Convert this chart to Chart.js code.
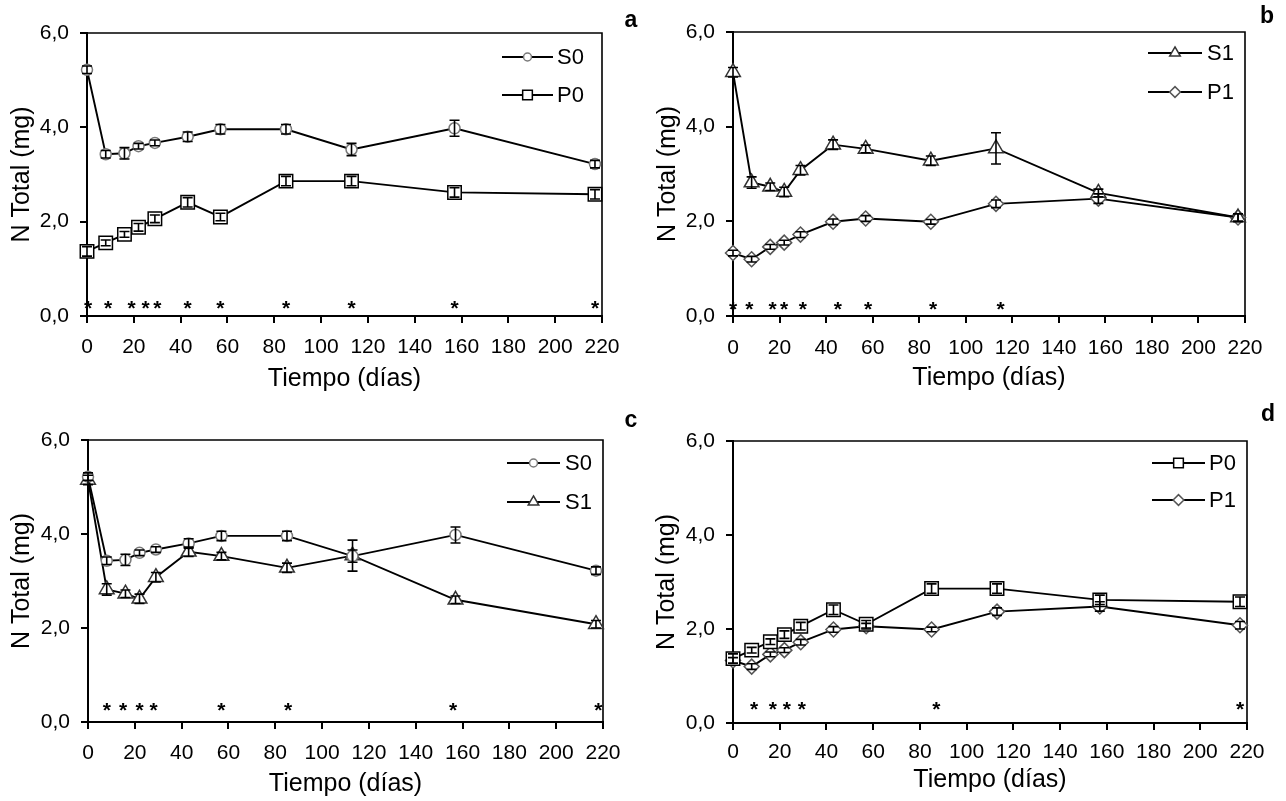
<!DOCTYPE html>
<html>
<head>
<meta charset="utf-8">
<script src="https://cdn.jsdelivr.net/npm/chart.js@4.4.1/dist/chart.umd.min.js"></script>
<style>
  html, body { margin: 0; padding: 0; background: #fff; }
  #wrap { position: relative; width: 1286px; height: 801px; overflow: hidden; background: #fff; }
  .panel { position: absolute; }
  .letra { position: absolute; font: bold 23px "Liberation Sans", Arial, sans-serif; color: #000;
           line-height: 1; transform: translate(-50%, -50%); }
</style>
</head>
<body>
<div id="wrap">
  <canvas id="cA" class="panel" width="643" height="400" style="left:0;top:0"></canvas>
  <canvas id="cB" class="panel" width="643" height="400" style="left:643px;top:0"></canvas>
  <canvas id="cC" class="panel" width="643" height="401" style="left:0;top:400px"></canvas>
  <canvas id="cD" class="panel" width="643" height="401" style="left:643px;top:400px"></canvas>
  <div class="letra" style="left:631px;top:19px">a</div>
  <div class="letra" style="left:1267px;top:15px">b</div>
  <div class="letra" style="left:631px;top:419px">c</div>
  <div class="letra" style="left:1268px;top:413px">d</div>
</div>
<script>
// días de muestreo
const dias = [0, 8, 16, 22, 29, 43, 57, 85, 113, 157, 217];

// N total (mg) y error estándar de cada tratamiento
const S0 = [5.22, 3.43, 3.45, 3.60, 3.67, 3.80, 3.96, 3.96, 3.53, 3.98, 3.22];
const S0err = [0.08, 0.08, 0.12, 0.06, 0.06, 0.10, 0.10, 0.10, 0.13, 0.17, 0.08];
const S1 = [5.15, 2.82, 2.73, 2.62, 3.08, 3.62, 3.53, 3.28, 3.54, 2.60, 2.08];
const S1err = [0.10, 0.12, 0.08, 0.10, 0.10, 0.10, 0.08, 0.10, 0.33, 0.08, 0.08];
const P0 = [1.37, 1.55, 1.73, 1.88, 2.06, 2.41, 2.10, 2.86, 2.86, 2.62, 2.58];
const P0err = [0.10, 0.06, 0.06, 0.08, 0.08, 0.10, 0.08, 0.10, 0.10, 0.10, 0.10];
const P1 = [1.33, 1.20, 1.46, 1.55, 1.72, 1.99, 2.06, 1.99, 2.37, 2.48, 2.08];
const P1err = [0.06, 0.06, 0.05, 0.05, 0.06, 0.06, 0.06, 0.05, 0.08, 0.10, 0.08];

// posiciones (días) de los asteriscos de diferencia significativa
const astA = [0.5, 9, 19, 25, 30, 43, 57, 85, 113, 157, 217];
const astB = [0, 7, 17, 22, 30, 45, 58, 86, 115];
const astC = [8, 15, 22, 28, 57, 85.5, 156, 218];
const astD = [9, 17, 23, 29.5, 87, 217];
const astNivel = [0.28, 0.25, 0.36, 0.40];

const ticksX = [0, 20, 40, 60, 80, 100, 120, 140, 160, 180, 200, 220];
const ticksY = [0, 2, 4, 6];

const FUENTE = '"Liberation Sans", Arial, sans-serif';

const series = {
  S0: { valores: S0, errores: S0err, pointStyle: 'circle', radius: 5.5, color: '#7a7a7a' },
  S1: { valores: S1, errores: S1err, pointStyle: 'triangle', radius: 8.5, color: '#333' },
  P0: { valores: P0, errores: P0err, pointStyle: 'rect', radius: 9.5, color: '#000' },
  P1: { valores: P1, errores: P1err, pointStyle: 'rectRot', radius: 7.5, color: '#555' }
};

function dataset(nombre) {
  const s = series[nombre];
  return {
    label: nombre,
    data: dias.map((d, i) => ({ x: d, y: s.valores[i] })),
    errores: s.errores,
    borderColor: '#000',
    borderWidth: 1.9,
    tension: 0,
    clip: false,
    pointStyle: s.pointStyle,
    pointRadius: s.radius,
    pointBorderColor: s.color,
    pointBackgroundColor: '#fff',
    pointBorderWidth: 1.5
  };
}

// barras de error verticales con remate
const barrasError = {
  id: 'barrasError',
  afterDatasetsDraw(chart) {
    const ctx = chart.ctx, xs = chart.scales.x, ys = chart.scales.y;
    ctx.save();
    ctx.strokeStyle = '#000';
    ctx.lineWidth = 1.6;
    chart.data.datasets.forEach(ds => {
      ds.data.forEach((p, i) => {
        const e = ds.errores[i];
        const px = xs.getPixelForValue(p.x);
        const arriba = ys.getPixelForValue(p.y + e);
        const abajo = ys.getPixelForValue(p.y - e);
        ctx.beginPath();
        ctx.moveTo(px, arriba); ctx.lineTo(px, abajo);
        ctx.moveTo(px - 5, arriba); ctx.lineTo(px + 5, arriba);
        ctx.moveTo(px - 5, abajo); ctx.lineTo(px + 5, abajo);
        ctx.stroke();
      });
    });
    ctx.restore();
  }
};

// marco superior y derecho del área de trazado
const marco = {
  id: 'marco',
  beforeDatasetsDraw(chart) {
    const { ctx, chartArea: a } = chart;
    ctx.save();
    ctx.strokeStyle = '#000';
    ctx.lineWidth = 1.6;
    ctx.beginPath();
    ctx.moveTo(a.left, a.top); ctx.lineTo(a.right, a.top); ctx.lineTo(a.right, a.bottom);
    ctx.stroke();
    ctx.restore();
  }
};

// asteriscos sobre el eje de tiempo
const asteriscos = {
  id: 'asteriscos',
  afterDatasetsDraw(chart, args, opts) {
    const ctx = chart.ctx, xs = chart.scales.x, ys = chart.scales.y;
    ctx.save();
    ctx.fillStyle = '#000';
    ctx.font = 'bold 21px ' + FUENTE;
    ctx.textAlign = 'center';
    ctx.textBaseline = 'alphabetic';
    const py = ys.getPixelForValue(opts.nivel) + 12;
    opts.dias.forEach(d => ctx.fillText('*', xs.getPixelForValue(d), py));
    ctx.restore();
  }
};

// leyenda con trazo y marcador dentro del área
const leyenda = {
  id: 'leyenda',
  afterDraw(chart, args, opts) {
    const ctx = chart.ctx;
    ctx.save();
    chart.data.datasets.forEach((ds, i) => {
      const y = opts.filas[i];
      ctx.strokeStyle = '#000';
      ctx.lineWidth = 1.9;
      ctx.beginPath();
      ctx.moveTo(opts.x0, y); ctx.lineTo(opts.x1, y);
      ctx.stroke();
      ctx.fillStyle = '#fff';
      ctx.strokeStyle = ds.pointBorderColor;
      ctx.lineWidth = 1.5;
      Chart.helpers.drawPoint(ctx, {
        pointStyle: ds.pointStyle, rotation: 0,
        radius: ds.pointRadius * 0.72, borderWidth: 1.5
      }, (opts.x0 + opts.x1) / 2, y);
      ctx.fillStyle = '#000';
      ctx.font = '22px ' + FUENTE;
      ctx.textAlign = 'left';
      ctx.textBaseline = 'middle';
      ctx.fillText(ds.label, opts.tx, y + 1);
    });
    ctx.restore();
  }
};

function panel(id, nombres, geo, astDias, astY) {
  const tickLen = 7, tickFont = 21, titleFont = 25;
  new Chart(document.getElementById(id), {
    type: 'line',
    data: { datasets: nombres.map(dataset) },
    plugins: [marco, barrasError, asteriscos, leyenda],
    options: {
      responsive: false,
      animation: false,
      events: [],
      layout: { padding: { top: geo.top, right: geo.w - geo.right, left: 0, bottom: 0 } },
      plugins: {
        legend: { display: false },
        tooltip: { enabled: false },
        asteriscos: { dias: astDias, nivel: astY },
        leyenda: geo.leyenda
      },
      scales: {
        x: {
          type: 'linear', min: 0, max: 220,
          afterBuildTicks: s => { s.ticks = ticksX.map(v => ({ value: v })); },
          afterFit: s => { s.height = geo.h - geo.bottom; },
          ticks: {
            color: '#000', autoSkip: false, maxRotation: 0,
            font: { size: tickFont, family: FUENTE },
            padding: geo.xTickY - geo.bottom - tickLen - tickFont * 0.6
          },
          grid: { drawOnChartArea: false, drawTicks: true, tickLength: tickLen, color: '#000', lineWidth: 2 },
          border: { display: true, color: '#000', width: 2 },
          title: {
            display: true, text: 'Tiempo (días)', color: '#000',
            font: { size: titleFont, family: FUENTE },
            padding: { top: 0, bottom: geo.h - geo.xTitleY - titleFont * 0.6 }
          }
        },
        y: {
          type: 'linear', min: 0, max: 6,
          afterBuildTicks: s => { s.ticks = ticksY.map(v => ({ value: v })); },
          afterFit: s => { s.width = geo.left; },
          ticks: {
            color: '#000',
            font: { size: tickFont, family: FUENTE },
            padding: 11,
            callback: v => v.toFixed(1).replace('.', ',')
          },
          grid: { drawOnChartArea: false, drawTicks: true, tickLength: tickLen, color: '#000', lineWidth: 2 },
          border: { display: true, color: '#000', width: 2 },
          title: {
            display: true, text: 'N Total (mg)', color: '#000',
            font: { size: titleFont, family: FUENTE },
            padding: { top: geo.yTitleX - titleFont * 0.6, bottom: 0 }
          }
        }
      }
    }
  });
}

panel('cA', ['S0', 'P0'],
  { w: 643, h: 400, left: 87, top: 33, right: 602, bottom: 316, yTitleX: 22, xTickY: 347.5, xTitleY: 379,
    leyenda: { x0: 502, x1: 553, tx: 557, filas: [57, 95] } }, astA, astNivel[0]);
panel('cB', ['S1', 'P1'],
  { w: 643, h: 400, left: 90, top: 32, right: 602, bottom: 316, yTitleX: 25, xTickY: 348, xTitleY: 378,
    leyenda: { x0: 505, x1: 559, tx: 564, filas: [53, 92] } }, astB, astNivel[1]);
panel('cC', ['S0', 'S1'],
  { w: 643, h: 401, left: 88, top: 40, right: 603, bottom: 322, yTitleX: 22, xTickY: 353, xTitleY: 384,
    leyenda: { x0: 507, x1: 560, tx: 565, filas: [63, 102] } }, astC, astNivel[2]);
panel('cD', ['P0', 'P1'],
  { w: 643, h: 401, left: 90, top: 41, right: 604, bottom: 323, yTitleX: 24, xTickY: 352, xTitleY: 380,
    leyenda: { x0: 509, x1: 562, tx: 566, filas: [63, 100] } }, astD, astNivel[3]);
</script>
</body>
</html>
